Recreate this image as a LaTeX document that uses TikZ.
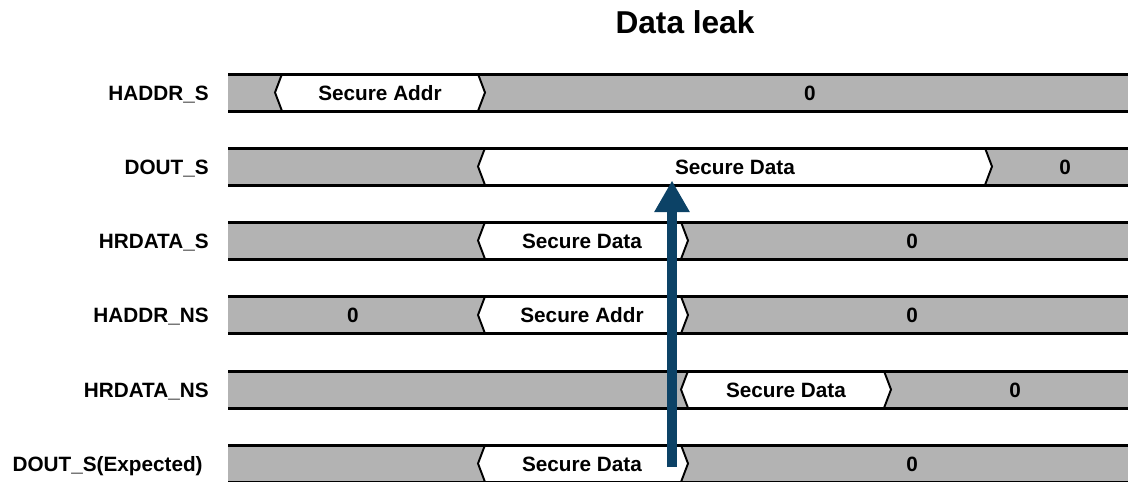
\documentclass[tikz,border=0pt]{standalone}
\usepackage{fontspec}
\setmainfont{Liberation Sans}
\usetikzlibrary{arrows.meta, positioning}
\definecolor{wavegray}{RGB}{179,179,179}
\definecolor{leakblue}{RGB}{12,66,102}

\begin{document}
\begin{tikzpicture}[x=0.02cm, y=-0.02cm,
  bar/.style={fill=wavegray},
  seg/.style={fill=white, draw=black, line width=1.1pt, line join=miter},
  edge/.style={line width=1.7pt},
  val/.style={anchor=base, inner sep=0pt, font=\fontsize{11.8}{14}\selectfont\bfseries},
  lbl/.style={anchor=base east, inner sep=0pt, font=\fontsize{11.8}{14}\selectfont\bfseries},
  leak/.style={draw=leakblue, line width=5.7pt, -{Triangle[width=19pt, length=18pt]}}]
\useasboundingbox (0,0) rectangle (1128,481);
\node[anchor=base, inner sep=0pt, font=\fontsize{18}{22}\selectfont\bfseries] (title) at (685,33) {Data leak};
% HADDR_S
\begin{scope}[shift={(0,92.5)}]
\fill[bar] (228,-18.5) rectangle (1128,18.5);
\filldraw[seg] (282,-18.5) -- (478,-18.5) -- (485,0) -- (478,18.5) -- (282,18.5) -- (275,0) -- cycle;
\draw[edge] (228,-18.5) -- (1128,-18.5);
\draw[edge] (228,18.5) -- (1128,18.5);
\node[lbl] (haddrs) at (209,7.5) {HADDR\_S};
\node[val] (haddrsaddr) at (380,7.5) {Secure Addr};
\node[val] (haddrszero) at (810,7.5) {0};
\end{scope}
% DOUT_S
\begin{scope}[shift={(0,166.5)}]
\fill[bar] (228,-18.5) rectangle (1128,18.5);
\filldraw[seg] (485,-18.5) -- (985,-18.5) -- (992,0) -- (985,18.5) -- (485,18.5) -- (478,0) -- cycle;
\draw[edge] (228,-18.5) -- (1128,-18.5);
\draw[edge] (228,18.5) -- (1128,18.5);
\node[lbl] (douts) at (209,7.5) {DOUT\_S};
\node[val] (doutsdata) at (735,7.5) {Secure Data};
\node[val] (doutszero) at (1065,7.5) {0};
\coordinate (leakend) at (672,14);
\end{scope}
% HRDATA_S
\begin{scope}[shift={(0,240.5)}]
\fill[bar] (228,-18.5) rectangle (1128,18.5);
\filldraw[seg] (485,-18.5) -- (681,-18.5) -- (688,0) -- (681,18.5) -- (485,18.5) -- (478,0) -- cycle;
\draw[edge] (228,-18.5) -- (1128,-18.5);
\draw[edge] (228,18.5) -- (1128,18.5);
\node[lbl] (hrdatas) at (209,7.5) {HRDATA\_S};
\node[val] (hrdatasdata) at (582,7.5) {Secure Data};
\node[val] (hrdataszero) at (912,7.5) {0};
\end{scope}
% HADDR_NS
\begin{scope}[shift={(0,315)}]
\fill[bar] (228,-18.5) rectangle (1128,18.5);
\filldraw[seg] (485,-18.5) -- (681,-18.5) -- (688,0) -- (681,18.5) -- (485,18.5) -- (478,0) -- cycle;
\draw[edge] (228,-18.5) -- (1128,-18.5);
\draw[edge] (228,18.5) -- (1128,18.5);
\node[lbl] (haddrns) at (209,7.5) {HADDR\_NS};
\node[val] (haddrnszero) at (353,7.5) {0};
\node[val] (haddrnsaddr) at (582,7.5) {Secure Addr};
\node[val] (haddrnsrest) at (912,7.5) {0};
\end{scope}
% HRDATA_NS
\begin{scope}[shift={(0,389.5)}]
\fill[bar] (228,-18.5) rectangle (1128,18.5);
\filldraw[seg] (688,-18.5) -- (884,-18.5) -- (891,0) -- (884,18.5) -- (688,18.5) -- (681,0) -- cycle;
\draw[edge] (228,-18.5) -- (1128,-18.5);
\draw[edge] (228,18.5) -- (1128,18.5);
\node[lbl] (hrdatans) at (209,7.5) {HRDATA\_NS};
\node[val] (hrdatansdata) at (786,7.5) {Secure Data};
\node[val] (hrdatanszero) at (1015,7.5) {0};
\end{scope}
% DOUT_S(Expected)
\begin{scope}[shift={(0,463.5)}]
\fill[bar] (228,-18.5) rectangle (1128,18.5);
\filldraw[seg] (485,-18.5) -- (681,-18.5) -- (688,0) -- (681,18.5) -- (485,18.5) -- (478,0) -- cycle;
\draw[edge] (228,-18.5) -- (1128,-18.5);
\draw[edge] (228,18.5) -- (1128,18.5);
\node[lbl] (doutsexp) at (203,7.5) {DOUT\_S(Expected)};
\node[val] (doutsexpdata) at (582,7.5) {Secure Data};
\node[val] (doutsexpzero) at (912,7.5) {0};
\coordinate (leakstart) at (672,3.5);
\end{scope}
% leak
\draw[leak] (leakstart) -- (leakend);
\end{tikzpicture}
\end{document}
